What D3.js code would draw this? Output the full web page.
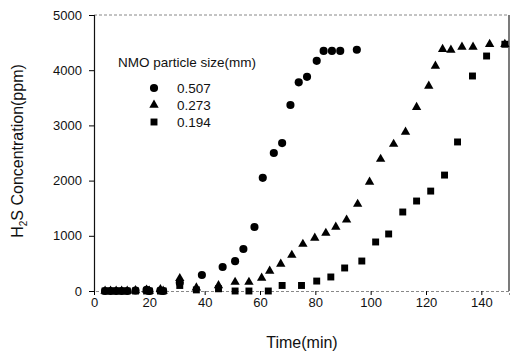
<!DOCTYPE html>
<html><head><meta charset="utf-8">
<script src="https://cdn.jsdelivr.net/npm/d3@7"></script>
<style>
html,body{margin:0;padding:0;background:#fff;}
svg{display:block;font-family:"Liberation Sans",Arial,sans-serif;}
</style></head>
<body><svg id="c" width="510" height="355"></svg>
<script>
const xTicks = [0,20,40,60,80,100,120,140];
const yTicks = [0,1000,2000,3000,4000,5000];
const seriesNames = ["0.507","0.273","0.194"];

const t507 = [4,6,8,10,12,15,19,20,24,25,31,39,46.5,51,54,58,61,65,68,71,74,77,80.5,83,86,89,95];
const v507 = [0,0,0,0,0,10,20,0,10,0,150,290,435,540,760,1160,2050,2500,2680,3370,3780,3880,4170,4350,4350,4350,4370];

const t273 = [4,6,8,10,12,15,19,20,24,25,31,37,45,51,56,60.6,63.5,67.5,71.5,75.5,79.8,83.8,87.4,91.3,95.3,99.6,103.6,108.3,112.6,116.6,121,123.4,126,129,133,137,143,148.5];
const v273 = [0,0,0,0,0,10,20,0,30,0,230,60,100,160,160,235,362,490,650,850,960,1050,1160,1290,1575,1975,2390,2660,2880,3330,3715,4076,4380,4366,4420,4420,4470,4470];

const t194 = [4,6,8,10,12,15,19,20,24,25,31,37,45,51,56,63,68,75,80.5,85.6,90.6,96.8,101.8,106.5,111.6,116.6,121.7,126.7,131.4,136.8,141.9,148.5];
const v194 = [0,0,0,0,0,0,0,0,0,0,100,20,40,0,0,0,100,100,180,254,417,543,888,1033,1431,1630,1810,2100,2700,3895,4257,4470];

const svg = d3.select("#c");
const x = d3.scaleLinear().domain([0,150]).range([94,509]);
const y = d3.scaleLinear().domain([0,5000]).range([291,15]);

// frame
svg.append("line").attr("x1",x(0)).attr("x2",x(150)).attr("y1",y(5000)).attr("y2",y(5000))
  .attr("stroke","#888").attr("stroke-dasharray","3,2");
svg.append("line").attr("x1",x(150)).attr("x2",x(150)).attr("y1",y(5000)).attr("y2",y(0))
  .attr("stroke","#222").attr("stroke-width",1.2);

// axes
const yAxis = d3.axisLeft(y).tickValues(yTicks).tickSize(5).tickPadding(7).tickFormat(d3.format("d"));
const gy = svg.append("g").attr("transform",`translate(${x(0)},0)`).call(yAxis);
gy.select(".domain").attr("stroke","#111").attr("stroke-width",1.2);
gy.selectAll("text").attr("font-size","13px").attr("fill","#111").attr("font-family","Liberation Sans, Arial, sans-serif");

const xAxis = d3.axisBottom(x).tickValues(xTicks).tickSize(4).tickPadding(3).tickFormat(d3.format("d"));
const gx = svg.append("g").attr("transform",`translate(0,${y(0)})`).call(xAxis);
gx.select(".domain").attr("stroke","#888").attr("stroke-dasharray","3,2");
gx.selectAll("text").attr("font-size","13px").attr("fill","#111").attr("font-family","Liberation Sans, Arial, sans-serif");

// titles
svg.append("text").attr("x",302).attr("y",348).attr("text-anchor","middle")
  .attr("font-size","16px").attr("fill","#111").text("Time(min)");
const yt = svg.append("text").attr("transform","translate(23,151) rotate(-90)")
  .attr("text-anchor","middle").attr("font-size","16px").attr("fill","#111");
yt.append("tspan").text("H");
yt.append("tspan").attr("font-size","10px").attr("dy",4).text("2");
yt.append("tspan").attr("dy",-4).text("S Concentration(ppm)");

// symbols
const shapes = [d3.symbolCircle, d3.symbolTriangle, d3.symbolSquare];
const sizes = [52, 38, 48];
const data = [[t507,v507],[t273,v273],[t194,v194]];
data.forEach(([ts,vs],i)=>{
  svg.append("g").selectAll("path").data(ts.map((t,j)=>[t,vs[j]])).join("path")
    .attr("transform",d=>`translate(${x(d[0])},${y(d[1])})`)
    .attr("d",d3.symbol().type(shapes[i]).size(sizes[i]))
    .attr("fill","#000");
});

// legend
const lg = svg.append("g");
lg.append("text").attr("x",118).attr("y",67).attr("font-size","13.5px").attr("fill","#111").text("NMO particle size(mm)");
seriesNames.forEach((n,i)=>{
  const yy = 88 + i*17;
  lg.append("path").attr("transform",`translate(154,${yy})`)
    .attr("d",d3.symbol().type(shapes[i]).size(sizes[i])).attr("fill","#000");
  lg.append("text").attr("x",177).attr("y",yy+5).attr("font-size","13.5px").attr("fill","#111").text(n);
});
</script></body></html>
